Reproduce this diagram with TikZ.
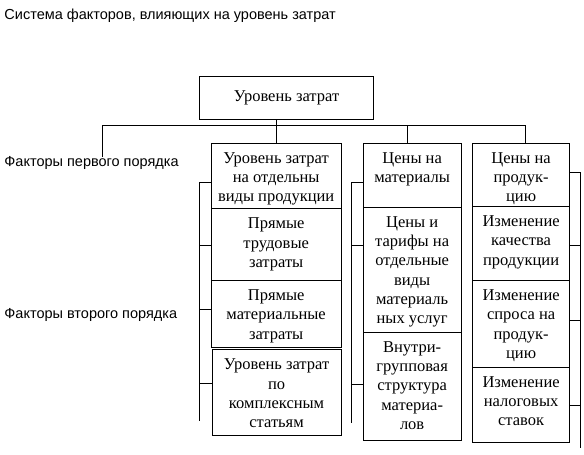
\documentclass[tikz,border=0pt]{standalone}
\usepackage{fontspec}
\setmainfont{Liberation Serif}
\newfontfamily\sansf{Liberation Sans}
\newcommand{\mycell}[3]{\parbox[t][#1][t]{#2}{\centering\fontsize{16.5}{19.3}\selectfont\rule{0pt}{20pt}#3}}
\begin{document}
\begin{tikzpicture}[x=1pt,y=-1pt,line width=0.9pt,
  box/.style={draw,inner sep=0pt,anchor=north west},
  lbl/.style={font=\sansf\fontsize{14.5}{16}\selectfont,anchor=west,inner sep=0pt}]
\useasboundingbox (0,0) rectangle (584,455);
% labels
\node[lbl] (title) at (4,16) {Система факторов, влияющих на уровень затрат};
\node[lbl] (lab1) at (4,162.5) {Факторы первого порядка};
\node[lbl] (lab2) at (4,315) {Факторы второго порядка};
% top box
\node[draw,inner sep=0pt,minimum width=174.4pt,minimum height=43pt,font=\fontsize{16.5}{19}\selectfont] (t) at (286.5,97.5) {Уровень затрат};
% column 1
\node[box] (a1) at (210.7,142.7) {\mycell{65.6pt}{130pt}{Уровень затрат\\на отдельны\\виды продукции}};
\node[box] (a2) at (210.7,208.3) {\mycell{71.7pt}{130pt}{Прямые\\трудовые\\затраты}};
\node[box] (a3) at (210.7,280) {\mycell{66.7pt}{130pt}{Прямые\\материальные\\затраты}};
\node[box] (a4) at (211.5,349.3) {\mycell{85.7pt}{129.2pt}{Уровень затрат\\по\\комплексным\\статьям}};
% column 2
\node[box] (b1) at (362.7,142.7) {\mycell{64pt}{98pt}{Цены на\\материалы}};
\node[box] (b2) at (362.7,206.7) {\mycell{125pt}{98pt}{Цены и\\тарифы на\\отдельные\\виды\\материаль\\ных услуг}};
\node[box] (b3) at (362.7,331.7) {\mycell{108.3pt}{98pt}{Внутри-\\групповая\\структура\\материа-\\лов}};
% column 3
\node[box] (c1) at (472,142.7) {\mycell{63.3pt}{97.3pt}{Цены на\\продук-\\цию}};
\node[box] (c2) at (472,206) {\mycell{74pt}{97.3pt}{Изменение\\качества\\продукции}};
\node[box] (c3) at (472,280) {\mycell{86.7pt}{97.3pt}{Изменение\\спроса на\\продук-\\цию}};
\node[box] (c4) at (472,366.7) {\mycell{75pt}{97.3pt}{Изменение\\налоговых\\ставок}};
% tree connectors
\coordinate (bl) at (102,125);
\coordinate (br) at (525,125);
\coordinate (d1) at (102,156.5);
\coordinate (b1top) at ([xshift=-5pt]b1.north);
\draw (d1) -- (bl) -- (br) -- (br |- c1.north);
\draw (a1.north |- t.south) -- (a1.north);
\draw (b1top |- bl) -- (b1top);
% bracket column 1
\coordinate (k1) at (199.5,420.5);
\draw ([yshift=-6.5pt]a1.west) -| (k1);
\draw ([yshift=-1pt]a2.west) -- ++(-11.2,0);
\draw ([yshift=4.3pt]a3.west) -- ++(-11.2,0);
\draw ([yshift=9pt]a4.west) -- ++(-12,0);
% bracket column 2
\coordinate (k2) at (351.7,422.7);
\draw ([yshift=-7.3pt]b1.west) -| (k2);
\draw ([yshift=24.2pt]b2.west) -- ++(-11,0);
\draw ([yshift=1.85pt]b3.west) -- ++(-11,0);
% bracket column 3
\coordinate (k3) at (580,448);
\draw ([yshift=2.65pt]c1.east) -| (k3);
\draw ([yshift=-2pt]c2.east) -- ++(10.7,0);
\draw ([yshift=3.35pt]c3.east) -- ++(10.7,0);
\draw ([yshift=-0.8pt]c4.east) -- ++(10.7,0);
\end{tikzpicture}
\end{document}
